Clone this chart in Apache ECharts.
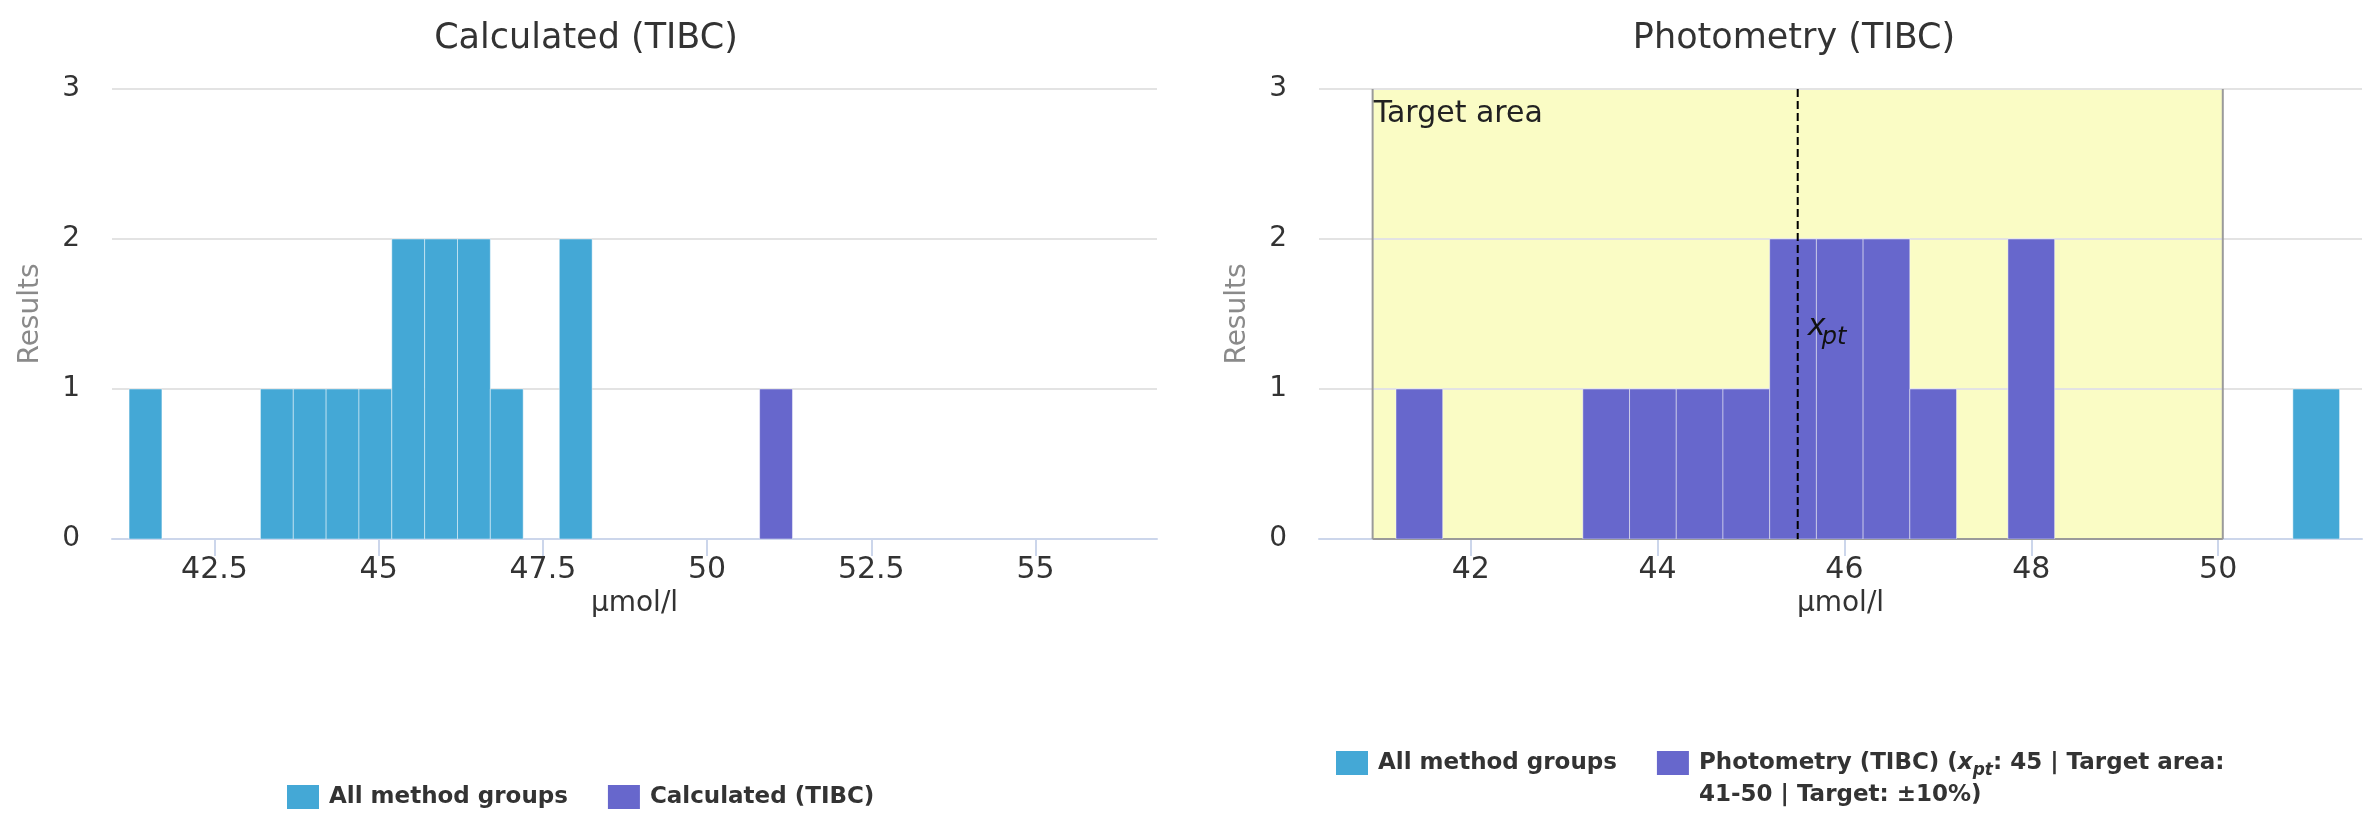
<!DOCTYPE html>
<html>
<head>
<meta charset="utf-8">
<script src="https://cdn.jsdelivr.net/npm/echarts@6/dist/echarts.min.js"></script>
<style>
  html, body { margin: 0; padding: 0; background: #ffffff; }
  #chart { width: 2379px; height: 814px; }
</style>
</head>
<body>
<div id="chart"></div>
<script>
// Histogram bins: centre of each 0.5 µmol/l wide column
const binCenters = [41.45, 43.45, 43.95, 44.45, 44.95, 45.45, 45.95, 46.45, 46.95, 48.0, 51.05];
const binWidth = 0.5;

// Left panel: Calculated (TIBC)
const calcAllGroups = [1, 1, 1, 1, 1, 2, 2, 2, 1, 2, 0];
const calcGroup     = [0, 0, 0, 0, 0, 0, 0, 0, 0, 0, 1];

// Right panel: Photometry (TIBC)
const photoAllGroups = [0, 0, 0, 0, 0, 0, 0, 0, 0, 0, 1];
const photoGroup     = [1, 1, 1, 1, 1, 2, 2, 2, 1, 2, 0];

// Axis tick labels
const leftTicks  = [42.5, 45, 47.5, 50, 52.5, 55];
const rightTicks = [42, 44, 46, 48, 50];

// Assigned value and target area of the photometry group
const xpt = 45.5;
const targetArea = [40.95, 50.05];

const ALL_NAME   = 'All method groups';
const CALC_NAME  = 'Calculated (TIBC)';
const PHOTO_NAME = 'Photometry (TIBC) (xpt: 45 | Target area: 41-50 | Target: ±10%)';

const BLUE   = '#44a8d6';
const PURPLE = '#6767cc';
const FONT   = 'DejaVu Sans';

function toPairs(counts) {
  return binCenters.map((c, i) => [c, counts[i]]);
}

// One column per bin, spanning the full bin width on the value axis
function histogramItem(color) {
  return function (params, api) {
    const c = api.value(0), n = api.value(1);
    if (!n) return null;
    const p0 = api.coord([c - binWidth / 2, n]);
    const p1 = api.coord([c + binWidth / 2, 0]);
    return {
      type: 'rect',
      shape: { x: p0[0], y: p0[1], width: p1[0] - p0[0], height: p1[1] - p0[1] },
      style: { fill: color, stroke: 'rgba(255,255,255,0.45)', lineWidth: 1 }
    };
  };
}

function histSeries(name, counts, color, idx) {
  return {
    type: 'custom', name: name, xAxisIndex: idx, yAxisIndex: idx,
    color: color, clip: true, z: 2,
    renderItem: histogramItem(color),
    encode: { x: 0, y: 1 },
    data: toPairs(counts)
  };
}

function xAxisFor(idx, min, max, ticks) {
  return {
    type: 'value', gridIndex: idx, min: min, max: max,
    name: 'µmol/l', nameLocation: 'middle', nameGap: 46,
    nameTextStyle: { fontFamily: FONT, fontSize: 28, color: '#333333' },
    axisLine: { show: true, onZero: false, lineStyle: { color: '#ccd6eb', width: 2 } },
    axisTick: { show: true, customValues: ticks, length: 17, lineStyle: { color: '#ccd6eb', width: 2 } },
    axisLabel: { customValues: ticks, fontFamily: FONT, fontSize: 30, color: '#333333', margin: 16 },
    splitLine: { show: false }
  };
}

function yAxisFor(idx) {
  return {
    type: 'value', gridIndex: idx, min: 0, max: 3, interval: 1,
    name: 'Results', nameLocation: 'middle', nameGap: 67,
    nameTextStyle: { fontFamily: FONT, fontSize: 28, color: '#8a8a8a' },
    axisLine: { show: false }, axisTick: { show: false },
    axisLabel: { fontFamily: FONT, fontSize: 28, color: '#333333', margin: 32 },
    splitLine: { lineStyle: { color: '#e3e3e3', width: 2 } }
  };
}

const chart = echarts.init(document.getElementById('chart'), null, { renderer: 'canvas' });

const option = {
  animation: false,
  backgroundColor: '#ffffff',
  title: [
    { text: 'Calculated (TIBC)', left: 581, top: 16, textAlign: 'center',
      textStyle: { fontFamily: FONT, fontSize: 35, fontWeight: 'normal', color: '#333333' } },
    { text: 'Photometry (TIBC)', left: 1789, top: 16, textAlign: 'center',
      textStyle: { fontFamily: FONT, fontSize: 35, fontWeight: 'normal', color: '#333333' } }
  ],
  grid: [
    { left: 112, top: 89, width: 1045, height: 450 },
    { left: 1319, top: 89, width: 1043, height: 450 }
  ],
  xAxis: [
    xAxisFor(0, 40.94, 56.85, leftTicks),
    xAxisFor(1, 40.376, 51.54, rightTicks)
  ],
  yAxis: [yAxisFor(0), yAxisFor(1)],
  legend: [
    {
      left: 282, top: 780, orient: 'horizontal',
      itemWidth: 32, itemHeight: 24, itemGap: 40, icon: 'rect',
      selectedMode: false,
      textStyle: { fontFamily: FONT, fontSize: 23, fontWeight: 'bold', color: '#333333', padding: [0, 0, 0, 5] },
      data: [ALL_NAME, CALC_NAME]
    },
    {
      left: 1331, top: 710, orient: 'horizontal',
      itemWidth: 32, itemHeight: 24, itemGap: 40, icon: 'rect',
      selectedMode: false,
      data: [
        ALL_NAME,
        { name: PHOTO_NAME, textStyle: { padding: [32, 0, 0, 5], lineHeight: 32 } }
      ],
      formatter: function (name) {
        if (name !== PHOTO_NAME) return name;
        return '{b|Photometry (TIBC) (}{i|x}{s|pt}{b|: 45 | Target area:}\n{b|41-50 | Target: ±10%)}';
      },
      textStyle: {
        fontFamily: FONT, fontSize: 23, fontWeight: 'bold', color: '#333333', padding: [0, 0, 0, 5],
        rich: {
          b: { fontFamily: FONT, fontSize: 23, fontWeight: 'bold', color: '#333333', lineHeight: 32 },
          i: { fontFamily: FONT, fontSize: 23, fontWeight: 'bold', fontStyle: 'italic', color: '#333333', lineHeight: 32 },
          s: { fontFamily: FONT, fontSize: 17, fontWeight: 'bold', fontStyle: 'italic', color: '#333333',
               lineHeight: 17, verticalAlign: 'bottom' }
        }
      }
    }
  ],
  series: [
    // Target area fill, beneath the grid lines
    {
      type: 'custom', name: 'target-fill', xAxisIndex: 1, yAxisIndex: 1, z: -1, silent: true,
      renderItem: function (params, api) {
        const p0 = api.coord([api.value(0), 3]);
        const p1 = api.coord([api.value(1), 0]);
        return { type: 'rect', shape: { x: p0[0], y: p0[1], width: p1[0] - p0[0], height: p1[1] - p0[1] },
                 style: { fill: '#fafcc5' } };
      },
      data: [targetArea]
    },
    // Target area border and label
    {
      type: 'custom', name: 'target-border', xAxisIndex: 1, yAxisIndex: 1, z: 1, silent: true,
      renderItem: function (params, api) {
        const p0 = api.coord([api.value(0), 3]);
        const p1 = api.coord([api.value(1), 0]);
        const stroke = { stroke: '#9a9a9a', lineWidth: 2 };
        return {
          type: 'group',
          children: [
            { type: 'line', shape: { x1: p0[0], y1: p0[1], x2: p0[0], y2: p1[1] }, style: stroke },
            { type: 'line', shape: { x1: p1[0], y1: p0[1], x2: p1[0], y2: p1[1] }, style: stroke },
            { type: 'line', shape: { x1: p0[0], y1: p1[1], x2: p1[0], y2: p1[1] }, style: stroke },
            { type: 'text', x: p0[0] + 1, y: p0[1] + 25,
              style: { text: 'Target area', fontFamily: FONT, fontSize: 30, fill: '#222222',
                       align: 'left', verticalAlign: 'middle' } }
          ]
        };
      },
      data: [targetArea]
    },
    histSeries(ALL_NAME, calcAllGroups, BLUE, 0),
    histSeries(CALC_NAME, calcGroup, PURPLE, 0),
    histSeries(ALL_NAME, photoAllGroups, BLUE, 1),
    histSeries(PHOTO_NAME, photoGroup, PURPLE, 1),
    // Assigned value x_pt as a dashed vertical line
    {
      type: 'custom', name: 'xpt', xAxisIndex: 1, yAxisIndex: 1, z: 4, silent: true,
      renderItem: function (params, api) {
        const top = api.coord([api.value(0), 3]);
        const bottom = api.coord([api.value(0), 0]);
        return {
          type: 'group',
          children: [
            { type: 'line', shape: { x1: top[0], y1: top[1], x2: bottom[0], y2: bottom[1] },
              style: { stroke: '#000000', lineWidth: 2, lineDash: [8, 4] } },
            { type: 'text', x: top[0] + 10, y: top[1] + 238,
              style: { text: 'x', fontFamily: FONT, fontSize: 30, fontStyle: 'italic', fill: '#111111',
                       align: 'left', verticalAlign: 'middle' } },
            { type: 'text', x: top[0] + 24, y: top[1] + 249,
              style: { text: 'pt', fontFamily: FONT, fontSize: 24, fontStyle: 'italic', fill: '#111111',
                       align: 'left', verticalAlign: 'middle' } }
          ]
        };
      },
      data: [[xpt]]
    }
  ]
};

chart.setOption(option);
</script>
</body>
</html>
